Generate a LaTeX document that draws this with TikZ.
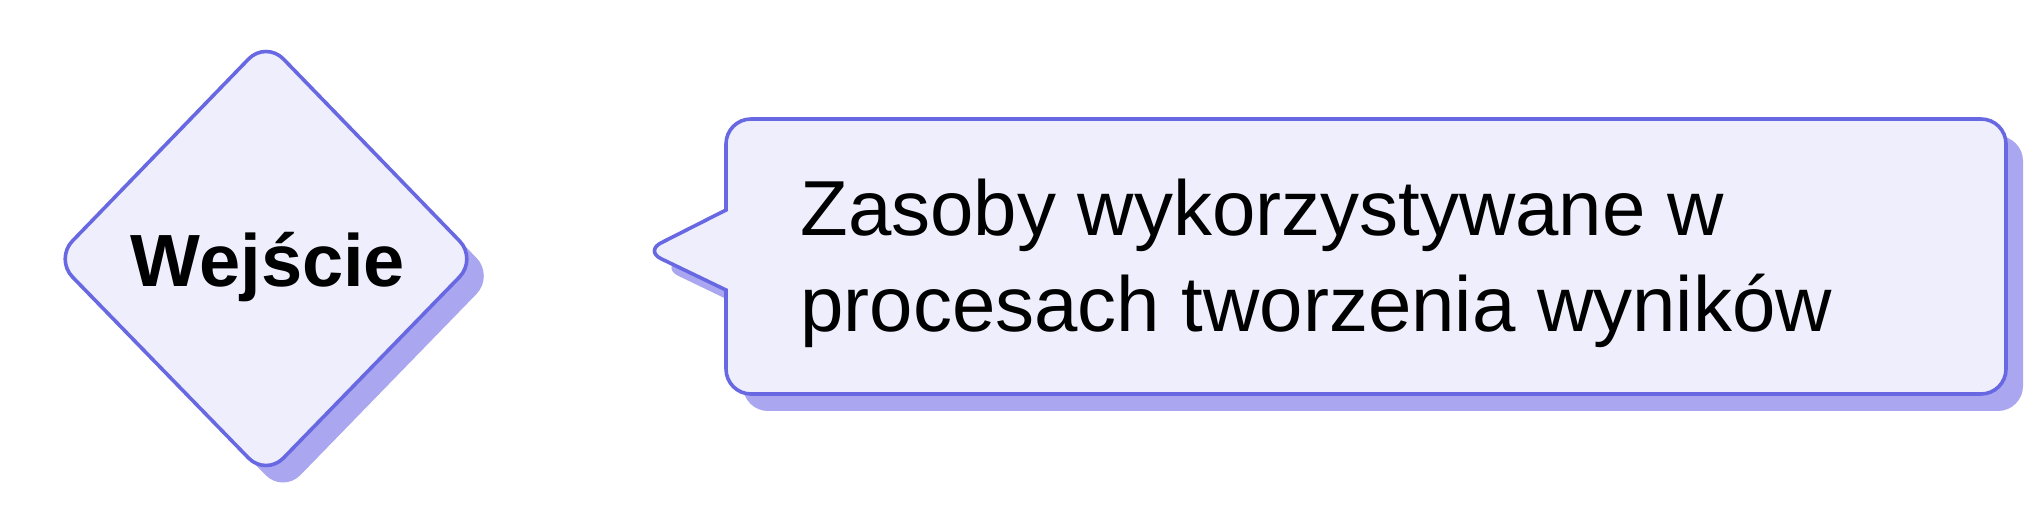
\documentclass[tikz,border=0pt]{standalone}
\usepackage{fontspec}
\setmainfont{Liberation Sans}
\definecolor{boxfill}{RGB}{238,238,252}
\definecolor{boxline}{RGB}{104,104,226}
\definecolor{boxshadow}{RGB}{170,167,240}
\begin{document}
\begin{tikzpicture}[x=0.5pt,y=-0.5pt]
\tikzstyle{every node}+=[inner sep=0pt]
\tikzstyle{dropshade}=[fill=boxshadow, shift={(17,17)}]
\tikzstyle{panel}=[draw=boxline, fill=boxfill, line width=1.8pt]
\useasboundingbox (0,0) rectangle (2040,512);
% diamond
\fill [dropshade, rounded corners=12.5pt] (266,41) -- (477,259) -- (266,476) -- (55,259) -- cycle;
\path [panel, rounded corners=12.5pt] (266,41) -- (477,259) -- (266,476) -- (55,259) -- cycle;
\node [anchor=base, font=\bfseries\fontsize{37}{44}\selectfont] (input) at (268,287) {Wejście};
% callout
\fill [dropshade, rounded corners=12.5pt] (1300,119) -- (2006,119) -- (2006,394) -- (726,394) [sharp corners] -- (726,290) [rounded corners=9pt] -- (645,251) [sharp corners] -- (726,210) [rounded corners=12.5pt] -- (726,119) -- cycle;
\path [panel, rounded corners=12.5pt] (1300,119) -- (2006,119) -- (2006,394) -- (726,394) [sharp corners] -- (726,290) [rounded corners=9pt] -- (645,251) [sharp corners] -- (726,210) [rounded corners=12.5pt] -- (726,119) -- cycle;
\node [anchor=base west, font=\fontsize{39}{48}\selectfont] (line1) at (800,236) {Zasoby wykorzystywane w};
\node [anchor=base west, font=\fontsize{39}{48}\selectfont] (line2) at (800,332) {procesach tworzenia wyników};
\end{tikzpicture}
\end{document}
